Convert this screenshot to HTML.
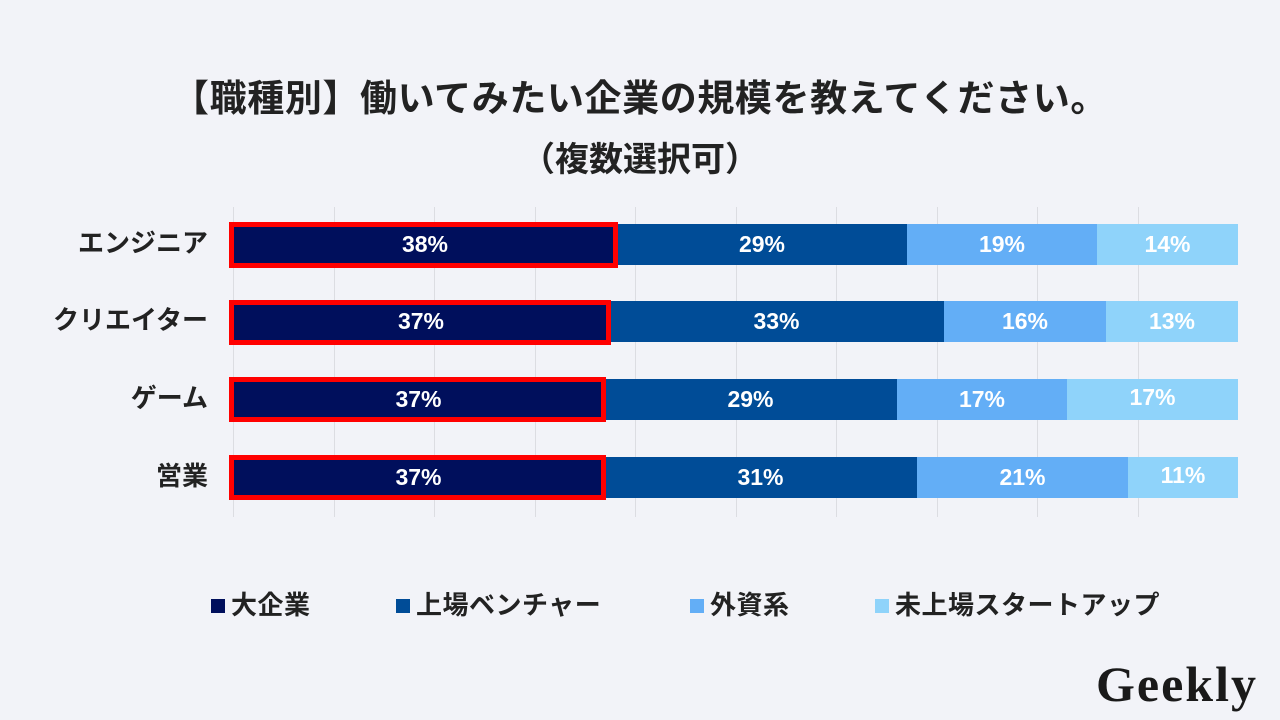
<!DOCTYPE html>
<html><head><meta charset="utf-8"><style>
body{margin:0;width:1280px;height:720px;background:#f2f3f8;position:relative;overflow:hidden;font-family:"Liberation Sans","Noto Sans CJK JP",sans-serif}
.t{position:absolute;left:0;width:1280px;text-align:center;font-weight:bold;color:#222}
.g{position:absolute;top:207px;height:310px;width:1px;background:#dcdde2}
.s{position:absolute;height:41px;color:#fff;font-size:23px;font-weight:bold;display:flex;align-items:center;justify-content:center}
.box{position:absolute;border:5px solid #ff0000;box-sizing:border-box}
.lab{position:absolute;right:1072px;font-size:26px;font-weight:bold;color:#222;height:41px;line-height:41px;white-space:nowrap}
.lg{position:absolute;top:585px;font-size:26px;letter-spacing:0.5px;font-weight:bold;color:#222;white-space:nowrap}
.lg i{display:inline-block;width:14px;height:14px;margin-right:6px;vertical-align:1px}
</style></head><body>
<div class="t" style="top:68px;font-size:37px;letter-spacing:0.6px">【職種別】働いてみたい企業の規模を教えてください。</div>
<div class="t" style="top:132px;font-size:34px">（複数選択可）</div>
<div class="g" style="left:233px"></div><div class="g" style="left:334px"></div><div class="g" style="left:434px"></div><div class="g" style="left:535px"></div><div class="g" style="left:635px"></div><div class="g" style="left:736px"></div><div class="g" style="left:836px"></div><div class="g" style="left:937px"></div><div class="g" style="left:1037px"></div><div class="g" style="left:1138px"></div>

<div class="lab" style="top:223px">エンジニア</div>
<div class="lab" style="top:300px">クリエイター</div>
<div class="lab" style="top:378px">ゲーム</div>
<div class="lab" style="top:456px">営業</div>

<div class="s" style="top:224px;left:233px;width:384px;background:#000f5c">38%</div>
<div class="s" style="top:224px;left:617px;width:290px;background:#004c97">29%</div>
<div class="s" style="top:224px;left:907px;width:190px;background:#63aef6">19%</div>
<div class="s" style="top:224px;left:1097px;width:141px;background:#8fd3fa">14%</div>

<div class="s" style="top:301px;left:233px;width:376px;background:#000f5c">37%</div>
<div class="s" style="top:301px;left:609px;width:335px;background:#004c97">33%</div>
<div class="s" style="top:301px;left:944px;width:162px;background:#63aef6">16%</div>
<div class="s" style="top:301px;left:1106px;width:132px;background:#8fd3fa">13%</div>

<div class="s" style="top:379px;left:233px;width:371px;background:#000f5c">37%</div>
<div class="s" style="top:379px;left:604px;width:293px;background:#004c97">29%</div>
<div class="s" style="top:379px;left:897px;width:170px;background:#63aef6">17%</div>
<div class="s" style="top:379px;left:1067px;width:171px;background:#8fd3fa;align-items:flex-start;padding-top:5px;box-sizing:border-box">17%</div>

<div class="s" style="top:457px;left:233px;width:371px;background:#000f5c">37%</div>
<div class="s" style="top:457px;left:604px;width:313px;background:#004c97">31%</div>
<div class="s" style="top:457px;left:917px;width:211px;background:#63aef6">21%</div>
<div class="s" style="top:457px;left:1128px;width:110px;background:#8fd3fa;align-items:flex-start;padding-top:5px;box-sizing:border-box">11%</div>

<div class="box" style="left:229px;top:222px;width:389px;height:46px"></div>
<div class="box" style="left:229px;top:300px;width:382px;height:45px"></div>
<div class="box" style="left:229px;top:377px;width:377px;height:45px"></div>
<div class="box" style="left:229px;top:455px;width:377px;height:45px"></div>

<div class="lg" style="left:211px"><i style="background:#000f5c"></i>大企業</div>
<div class="lg" style="left:396px"><i style="background:#004c97"></i>上場ベンチャー</div>
<div class="lg" style="left:690px"><i style="background:#63aef6"></i>外資系</div>
<div class="lg" style="left:875px"><i style="background:#8fd3fa"></i>未上場スタートアップ</div>

<div style="position:absolute;left:1096px;top:655px;font-family:'Liberation Serif',serif;font-weight:bold;font-size:50px;color:#1a1a1a;letter-spacing:2px">Geekly</div>
</body></html>
